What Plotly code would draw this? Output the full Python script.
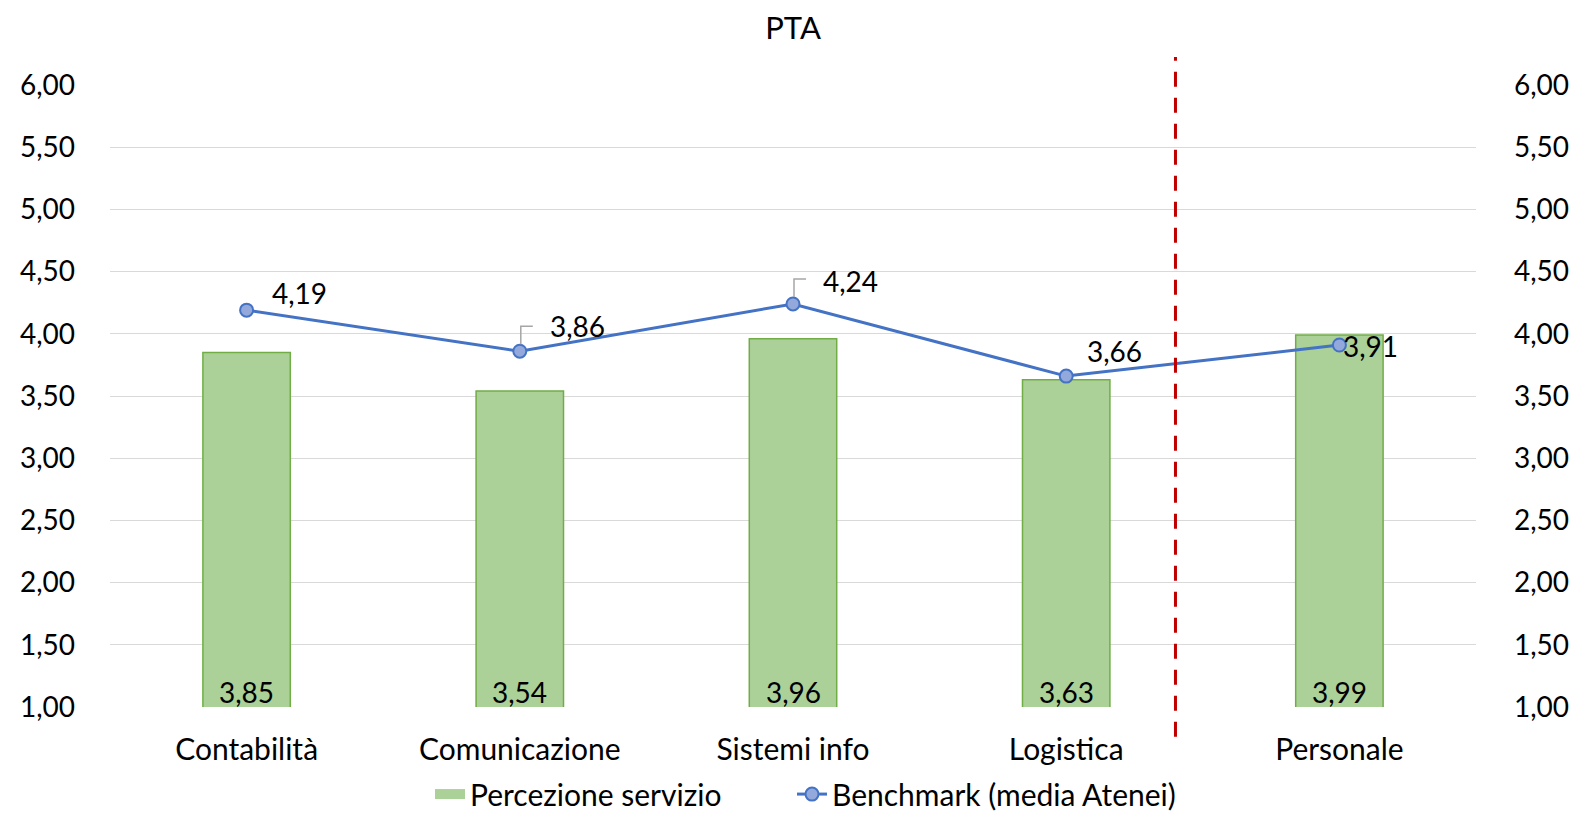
import plotly.graph_objects as go

categories = ["Contabilità", "Comunicazione", "Sistemi info", "Logistica", "Personale"]
percezione = [3.85, 3.54, 3.96, 3.63, 3.99]
benchmark = [4.19, 3.86, 4.24, 3.66, 3.91]
y_ticks = [1.0, 1.5, 2.0, 2.5, 3.0, 3.5, 4.0, 4.5, 5.0, 5.5, 6.0]
y_range = [1.0, 6.0]
separator_pos = 3.4  # position of dashed separator, in category units

FONT = "Lato"
FS_TXT = 30
FS_NUM = 28
BAR_FILL = "#abd098"
BAR_EDGE = "#70ad47"
PLOT_L, PLOT_W = 110, 1366

def it(v):
    return f"{v:.2f}".replace(".", ",")

fig = go.Figure()
# legend proxy for the bars (wider rectangle like the reference)
fig.add_trace(go.Scatter(
    x=[categories[0]], y=[None], name="Percezione servizio", mode="lines",
    line=dict(color=BAR_FILL, width=20), hoverinfo="skip", legend="legend",
))
fig.add_trace(go.Bar(
    x=categories, y=percezione, name="Percezione servizio", showlegend=False,
    width=0.32,
    marker=dict(color=BAR_FILL, line=dict(color=BAR_EDGE, width=1.5)),
    hoverinfo="skip",
))
fig.add_trace(go.Scatter(
    x=categories, y=benchmark, name="Benchmark (media Atenei)", yaxis="y2",
    mode="lines+markers", legend="legend2",
    line=dict(color="#4472c4", width=3),
    marker=dict(size=13, color="#93a9dc", line=dict(color="#4472c4", width=2)),
))

# bar value labels at the base
for c, v in zip(categories, percezione):
    fig.add_annotation(x=c, y=y_range[0], text=it(v), showarrow=False,
                       xanchor="center", yanchor="middle", yshift=15,
                       font=dict(family=FONT, size=FS_NUM, color="#000000"))

# benchmark labels
label_shift = [(23, 17), (28, 25), (28, 23), (19, 25), (2, -1)]
for c, v, (dx, dy) in zip(categories, benchmark, label_shift):
    fig.add_annotation(x=c, y=v, yref="y2", text=it(v), showarrow=False,
                       xanchor="left", yanchor="middle", xshift=dx, yshift=dy,
                       font=dict(family=FONT, size=FS_NUM, color="#000000"))

# leader lines for two labels
for idx in (1, 2):
    fig.add_shape(type="path", xref="x", yref="y2",
                  xsizemode="pixel", ysizemode="pixel",
                  xanchor=categories[idx], yanchor=benchmark[idx],
                  path="M 1 7 L 1 25 L 13 25",
                  line=dict(color="#a6a6a6", width=1.5))

# dashed separator
fig.add_shape(type="line", xref="x", yref="paper",
              x0=separator_pos, x1=separator_pos, y0=-0.048, y1=1.045,
              line=dict(color="#c00000", width=3, dash="15px,11px"))

leg_common = dict(orientation="h", y=-0.14, yanchor="middle", xanchor="left",
                  font=dict(family=FONT, size=FS_TXT, color="#000000"),
                  bgcolor="rgba(0,0,0,0)")

fig.update_layout(
    width=1575, height=814,
    paper_bgcolor="white", plot_bgcolor="white",
    separators=",.",
    margin=dict(l=PLOT_L, r=99, t=85, b=107, autoexpand=False),
    font=dict(family=FONT, size=FS_TXT, color="#000000"),
    title=dict(text="PTA", x=0.5035, xanchor="center", y=1 - 28 / 814, yanchor="middle",
               font=dict(family=FONT, size=31, color="#000000")),
    showlegend=True,
    legend=dict(x=(430 - PLOT_L) / PLOT_W, **leg_common),
    legend2=dict(x=(792 - PLOT_L) / PLOT_W, **leg_common),
    xaxis=dict(showgrid=False, showline=False, ticks="", ticklabelstandoff=22,
               automargin=False,
               tickfont=dict(family=FONT, size=FS_TXT, color="#000000")),
    yaxis=dict(range=y_range, tickvals=y_ticks, tickformat=".2f",
               showgrid=True, gridcolor="#d9d9d9", gridwidth=1.2,
               zeroline=False, showline=False, ticks="", ticklabelstandoff=34,
               automargin=False,
               tickfont=dict(family=FONT, size=FS_NUM, color="#000000")),
    yaxis2=dict(range=y_range, tickvals=y_ticks, tickformat=".2f", overlaying="y",
                side="right", showgrid=False, zeroline=False, showline=False,
                ticks="", ticklabelstandoff=37, automargin=False,
                tickfont=dict(family=FONT, size=FS_NUM, color="#000000")),
)

fig.write_html("out.html", config={"displayModeBar": False},
               post_script="document.body.style.margin='0';document.body.style.overflow='hidden';")
